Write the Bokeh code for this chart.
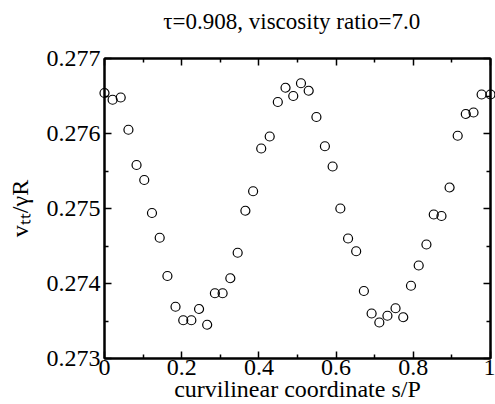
import math
from bokeh.plotting import figure
from bokeh.models import Range1d, LinearAxis, FixedTicker, CustomJSTickFormatter
from bokeh.embed import file_html
from bokeh.resources import INLINE

# ---- data ----
s_over_P = [0.000, 0.021, 0.042, 0.062, 0.083, 0.103, 0.123, 0.143, 0.163, 0.184,
            0.204, 0.225, 0.245, 0.266, 0.286, 0.306, 0.326, 0.345, 0.365, 0.385,
            0.406, 0.428, 0.449, 0.469, 0.489, 0.509, 0.529, 0.549, 0.571, 0.591,
            0.611, 0.631, 0.652, 0.672, 0.692, 0.712, 0.733, 0.754, 0.774, 0.794,
            0.814, 0.834, 0.853, 0.873, 0.894, 0.915, 0.936, 0.956, 0.977, 1.000]
v_tt = [0.27654, 0.27645, 0.27648, 0.27605, 0.27558, 0.27538, 0.27494, 0.27461, 0.27410, 0.27369,
        0.27351, 0.27351, 0.27366, 0.27345, 0.27387, 0.27387, 0.27407, 0.27441, 0.27497, 0.27523,
        0.27580, 0.27596, 0.27642, 0.27661, 0.27650, 0.27667, 0.27657, 0.27622, 0.27583, 0.27556,
        0.27500, 0.27460, 0.27443, 0.27390, 0.27360, 0.27348, 0.27357, 0.27367, 0.27355, 0.27397,
        0.27424, 0.27452, 0.27492, 0.27490, 0.27528, 0.27597, 0.27626, 0.27628, 0.27652, 0.27652]

x_ticks = [0, 0.2, 0.4, 0.6, 0.8, 1]
x_minor = [0.1, 0.3, 0.5, 0.7, 0.9]
y_ticks = [0.273, 0.274, 0.275, 0.276, 0.277]
y_minor = [0.2735, 0.2745, 0.2755, 0.2765]

title_text = "\u03c4=0.908, viscosity ratio=7.0"
x_title = "curvilinear coordinate s/P"
y_title = "v\u209c\u209c/\u03b3R"

# ---- layout ----
W, H = 495, 404
L, R, T, B = 104, 5, 58, 46
FONT = "Liberation Serif"

p = figure(width=W, height=H, output_backend="svg", toolbar_location=None,
           x_range=Range1d(0, 1), y_range=Range1d(0.273, 0.277),
           min_border_left=L, min_border_right=R, min_border_top=T, min_border_bottom=B,
           background_fill_color="white", border_fill_color="white")
p.xgrid.visible = False
p.ygrid.visible = False
p.outline_line_color = "black"
p.outline_line_width = 2

fmt = CustomJSTickFormatter(code="return tick.toString();")
blank = CustomJSTickFormatter(code="return '';")


def style_axis(ax, ticks, minor, labels=True):
    ax.ticker = FixedTicker(ticks=ticks, minor_ticks=minor)
    ax.formatter = fmt if labels else blank
    ax.axis_line_color = "black"
    ax.axis_line_width = 2
    ax.major_tick_line_color = "black"
    ax.major_tick_line_width = 1.5
    ax.minor_tick_line_color = "black"
    ax.minor_tick_line_width = 1.5
    ax.major_tick_in = 7
    ax.major_tick_out = 0
    ax.minor_tick_in = 4
    ax.minor_tick_out = 0
    ax.major_label_text_font = FONT
    ax.major_label_text_color = "black"
    ax.major_label_text_font_size = "24px" if labels else "1px"
    ax.axis_label_text_font = FONT
    ax.axis_label_text_font_size = "24px"
    ax.axis_label_text_font_style = "normal"
    ax.axis_label_text_color = "black"
    if not labels:
        ax.major_label_standoff = 0


xa = p.xaxis[0]
style_axis(xa, x_ticks, x_minor)
xa.major_label_standoff = 1
xa.axis_label = x_title
xa.axis_label_standoff = -2

ya = p.yaxis[0]
style_axis(ya, y_ticks, y_minor)
ya.major_label_standoff = 4
ya.axis_label = y_title
ya.axis_label_standoff = 11

# top axis: mirrored ticks, carries the chart title as its label
top_ax = LinearAxis()
style_axis(top_ax, x_ticks, x_minor, labels=False)
top_ax.axis_label = title_text + "\u00a0\u00a0"
top_ax.axis_label_text_font_size = "23px"
top_ax.axis_label_standoff = 25
p.add_layout(top_ax, "above")

right_ax = LinearAxis()
style_axis(right_ax, y_ticks, y_minor, labels=False)
p.add_layout(right_ax, "right")

p.scatter(s_over_P, v_tt, marker="circle", size=9, fill_color=None,
          line_color="black", line_width=1.2, level="overlay")

open("out.html", "w").write(file_html(p, INLINE))
